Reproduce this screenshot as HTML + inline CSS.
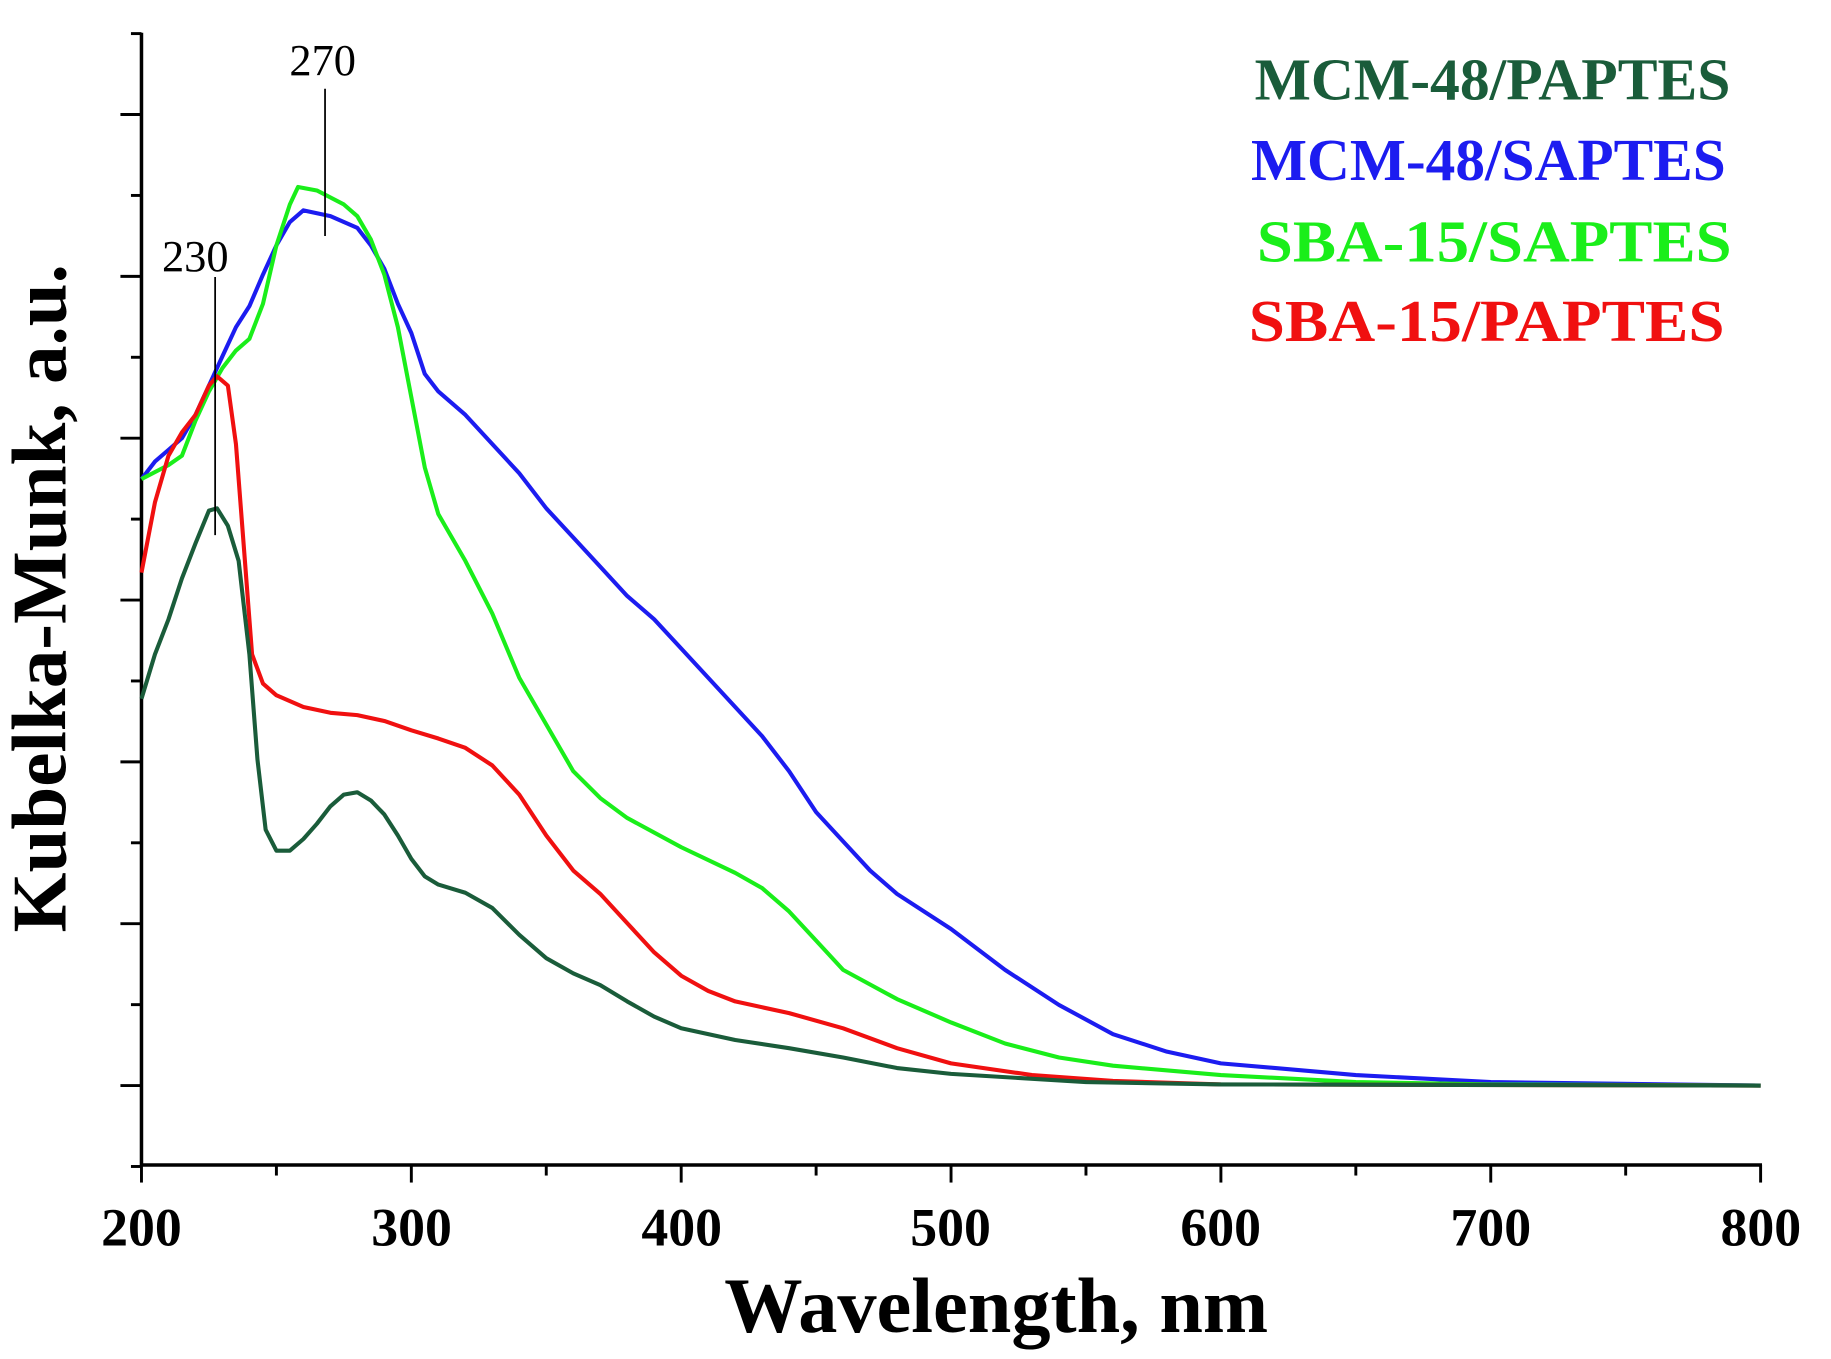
<!DOCTYPE html>
<html><head><meta charset="utf-8"><style>
html,body{margin:0;padding:0;background:#fff;}
svg{display:block;}
</style></head><body>
<svg id="s" width="1831" height="1359" viewBox="0 0 1566 1163" preserveAspectRatio="none" xmlns="http://www.w3.org/2000/svg" font-family="Liberation Serif, serif">
<g stroke="#000" stroke-width="3" fill="none">
<line x1="121" y1="28" x2="121" y2="998"/>
<line x1="120" y1="997" x2="1507" y2="997"/>
</g>
<g id="ticks" stroke="#000" stroke-width="2.5"></g>
<g font-size="46" font-weight="bold" text-anchor="middle" fill="#000">
<text x="121" y="1066">200</text><text x="352" y="1066">300</text><text x="583" y="1066">400</text><text x="813" y="1066">500</text><text x="1044" y="1066">600</text><text x="1275" y="1066">700</text><text x="1506" y="1066">800</text>
</g>
<text x="852" y="1140" font-size="67" font-weight="bold" text-anchor="middle">Wavelength, nm</text>
<text transform="translate(56,512) rotate(-90)" font-size="66" font-weight="bold" text-anchor="middle">Kubelka-Munk, a.u.</text>
<g font-size="51" font-weight="bold">
<text x="1073" y="85" fill="#1a5c3a" textLength="407" lengthAdjust="spacingAndGlyphs">MCM-48/PAPTES</text>
<text x="1070" y="154" fill="#1c1cf0" textLength="406" lengthAdjust="spacingAndGlyphs">MCM-48/SAPTES</text>
<text x="1075" y="224" fill="#1aee1a" textLength="406" lengthAdjust="spacingAndGlyphs">SBA-15/SAPTES</text>
<text x="1068" y="292" fill="#f01010" textLength="407" lengthAdjust="spacingAndGlyphs">SBA-15/PAPTES</text>
</g>
<g id="curves" fill="none" stroke-width="3.5" stroke-linejoin="round"></g>
<g stroke="#000" stroke-width="1.5">
<line x1="184" y1="237" x2="184" y2="458"/>
<line x1="278" y1="76" x2="278" y2="202"/>
</g>
<g font-size="38" text-anchor="middle" fill="#000">
<text x="167" y="232">230</text>
<text x="276" y="64">270</text>
</g>
</svg>
<script>
var X=function(n){return 121+(n-200)*2.308;};
var t=document.getElementById('ticks'),h='';
for(var i=0;i<7;i++){var y=98+i*138.5;h+='<line x1="103" y1="'+y+'" x2="121" y2="'+y+'"/>';var y2=y+69.25;h+='<line x1="112" y1="'+y2+'" x2="121" y2="'+y2+'"/>';}
var y0=98-69.25;h+='<line x1="112" y1="'+y0+'" x2="121" y2="'+y0+'"/>';
for(var n=200;n<=800;n+=50){var x=X(n);h+='<line x1="'+x+'" y1="997" x2="'+x+'" y2="'+(n%100==0?1012:1006)+'"/>';}
t.innerHTML=h;
var D={
"#1a5c3a":[[200,598],[205,560],[210,530],[215,495],[220,465],[225,437],[228,435],[232,450],[236,480],[240,560],[243,650],[246,710],[250,728],[255,728],[260,718],[265,705],[270,690],[275,680],[280,678],[285,685],[290,697],[295,715],[300,735],[305,750],[310,757],[320,764],[330,777],[340,800],[350,820],[360,833],[370,843],[380,857],[390,870],[400,880],[420,890],[440,897],[460,905],[480,914],[500,919],[550,926],[600,928],[800,929]],
"#f01010":[[200,490],[205,430],[210,390],[215,370],[220,355],[225,330],[228,322],[232,330],[235,380],[238,470],[241,560],[245,585],[250,595],[260,605],[270,610],[280,612],[290,617],[300,625],[310,632],[320,640],[330,655],[340,680],[350,715],[360,745],[370,765],[380,790],[390,815],[400,835],[410,848],[420,857],[440,867],[460,880],[480,897],[500,910],[530,920],[560,925],[600,928],[800,929]],
"#1aee1a":[[200,410],[210,398],[215,390],[220,360],[225,335],[230,315],[235,300],[240,290],[245,260],[250,210],[255,175],[258,160],[265,163],[275,175],[280,185],[285,205],[290,235],[295,280],[300,340],[305,400],[310,440],[320,480],[330,525],[340,580],[350,620],[360,660],[370,683],[380,700],[400,725],[420,747],[430,760],[440,780],[450,805],[460,830],[480,855],[500,875],[520,893],[540,905],[560,912],[600,920],[650,926],[700,928],[800,929]],
"#1c1cf0":[[200,410],[205,395],[210,385],[215,375],[220,355],[225,330],[230,305],[235,280],[240,262],[245,235],[250,210],[255,190],[260,180],[270,185],[280,195],[285,210],[290,230],[295,260],[300,285],[305,320],[310,335],[320,355],[330,380],[340,405],[350,435],[360,460],[370,485],[380,510],[390,530],[400,555],[410,580],[420,605],[430,630],[440,660],[450,695],[460,720],[470,745],[480,765],[500,795],[520,830],[540,860],[560,885],[580,900],[600,910],[650,920],[700,926],[800,929]]};
var order=["#1c1cf0","#1aee1a","#f01010","#1a5c3a"],c='';
order.forEach(function(k){var p=D[k].map(function(q,i){return (i?'L':'M')+X(q[0]).toFixed(1)+' '+q[1];}).join('');c+='<path stroke="'+k+'" d="'+p+'"/>';});
document.getElementById('curves').innerHTML=c;
</script>
</body></html>
